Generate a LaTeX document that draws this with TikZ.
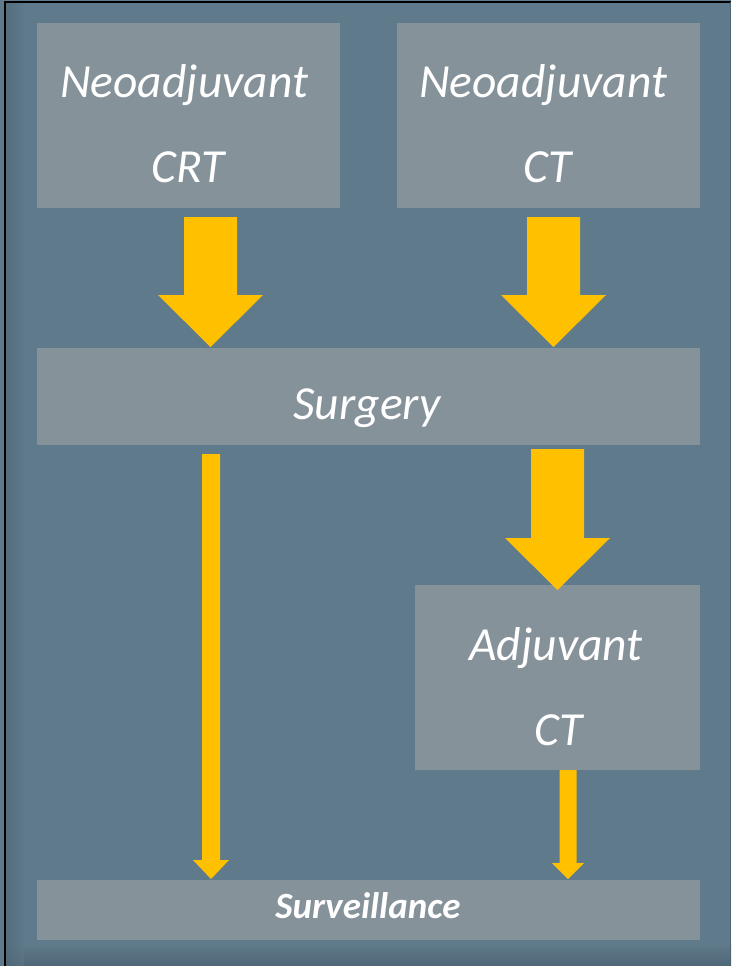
\documentclass[tikz,border=0pt]{standalone}
\usepackage{fontspec}
\setmainfont{Carlito}
\definecolor{bgblue}{HTML}{5F7A8B}
\definecolor{boxgrey}{HTML}{86929A}
\definecolor{arrowyellow}{HTML}{FFC000}
\definecolor{shadowblue}{HTML}{4F6676}
\tikzset{
  box/.style={fill=boxgrey, draw=none, inner sep=0pt, anchor=north west},
  lbl/.style={text=white, anchor=base, inner sep=0pt, font=\fontsize{47.5}{50}\selectfont\itshape},
  smalllbl/.style={text=white, anchor=base, inner sep=0pt, font=\fontsize{37}{40}\selectfont\bfseries\itshape},
  blockarrow/.style={fill=arrowyellow, draw=none}
}
% #1 centre x, #2 half shaft, #3 half head, #4 top y, #5 head y, #6 tip y
\newcommand{\myblockarrow}[6]{%
  \fill[blockarrow] (#1-#2,#4) -- (#1+#2,#4) -- (#1+#2,#5) -- (#1+#3,#5)
    -- (#1,#6) -- (#1-#3,#5) -- (#1-#2,#5) -- cycle;}
\begin{document}
\begin{tikzpicture}[x=1pt,y=-1pt]
\useasboundingbox (0,0) rectangle (731,966);
% background and frame
\fill[bgblue] (0,0) rectangle (731,966);
\shade[top color=bgblue, bottom color=shadowblue] (5,944) rectangle (731,966);
\shade[left color=shadowblue, right color=bgblue, opacity=0.6] (6,2) rectangle (24,966);
\draw[black, line width=1.5pt] (5,966) -- (5,2) -- (731,2);
\draw[shadowblue, line width=1pt] (730.5,2) -- (730.5,966);

% boxes
\node[box, minimum width=303, minimum height=185] (crt) at (37,23) {};
\node[box, minimum width=303, minimum height=185] (nct) at (397,23) {};
\node[box, minimum width=663, minimum height=97] (surg) at (37,348) {};
\node[box, minimum width=285, minimum height=185] (adj) at (415,585) {};
\node[box, minimum width=663, minimum height=60] (surv) at (37,880) {};

% labels
\node[lbl] (crtA) at (184,97) {Neoadjuvant};
\node[lbl] (crtB) at (188,182) {CRT};
\node[lbl] (nctA) at (543,97) {Neoadjuvant};
\node[lbl] (nctB) at (548,182) {CT};
\node[lbl] (surgT) at (367,419) {Surgery};
\node[lbl] (adjA) at (556,660) {Adjuvant};
\node[lbl] (adjB) at (559,745) {CT};
\node[smalllbl] (survT) at (368,918) {Surveillance};

% arrows
\myblockarrow{210.5}{26.5}{52.5}{217}{295}{347}
\myblockarrow{553.5}{26.5}{52.5}{217}{295}{347}
\myblockarrow{557.5}{26.5}{52.5}{449}{538}{590}
\myblockarrow{211}{9}{18}{454}{860}{879}
\myblockarrow{568}{8.5}{16}{770}{863}{879}
\end{tikzpicture}
\end{document}
